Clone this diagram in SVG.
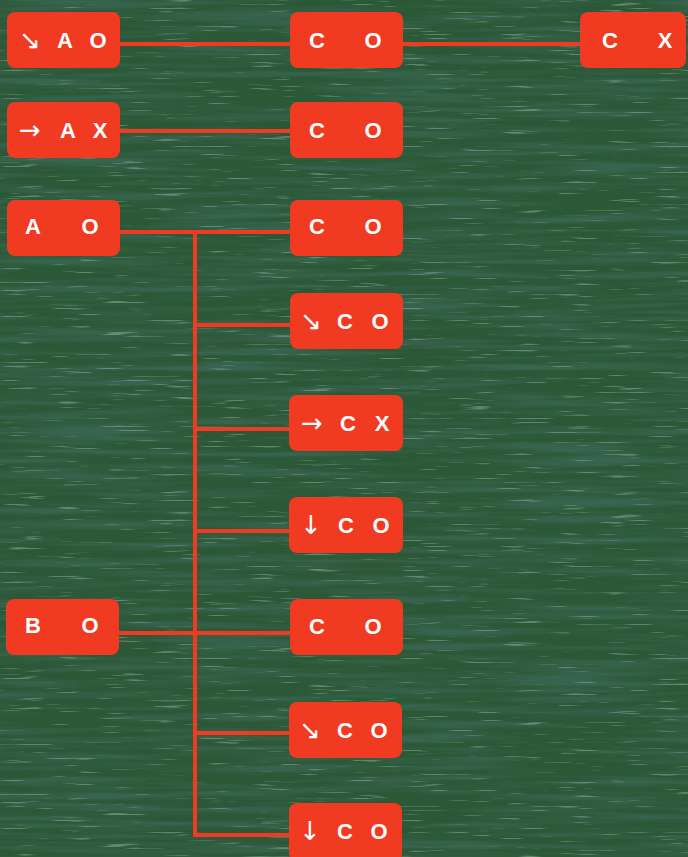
<svg xmlns="http://www.w3.org/2000/svg" width="688" height="857" viewBox="0 0 688 857">
<defs>
<style>
.box{fill:#f03a22}
.t{font-family:"Liberation Sans",Arial,sans-serif;font-weight:bold;font-size:22px;fill:#ffffff;text-anchor:middle}
.a{font-family:"DejaVu Sans",sans-serif;font-size:26px;fill:#ffffff;text-anchor:middle}
.c{stroke:#f03a22;stroke-width:4;fill:none}
</style>
<filter id="streaks" x="0" y="0" width="100%" height="100%">
<feTurbulence type="fractalNoise" baseFrequency="0.006 0.14" numOctaves="3" seed="4" result="n"/>
<feColorMatrix in="n" type="matrix" values="0 0 0 0 0.04  0 0 0 0 0.13  0 0 0 0 0.08  0 0 0 -2.6 1.55"/>
</filter>
<filter id="speck" x="0" y="0" width="100%" height="100%">
<feTurbulence type="fractalNoise" baseFrequency="0.02 0.5" numOctaves="2" seed="9" result="n"/>
<feColorMatrix in="n" type="matrix" values="0 0 0 0 0.7  0 0 0 0 0.82  0 0 0 0 0.78  0 0 0 9 -6"/>
</filter>
</defs>
<rect width="688" height="857" fill="#2b5836"/>
<rect width="688" height="857" filter="url(#streaks)"/>
<rect width="688" height="857" filter="url(#speck)" opacity="0.3"/>
<g id="connectors">
<path class="c" d="M120 44H290M403 44H580"/>
<path class="c" d="M120 131H290"/>
<path class="c" d="M120 232H290M195 232V835H290M195 325H290M195 429H290M195 531H290M195 733H290"/>
<path class="c" d="M119 633H290"/>
</g>
<g id="n_l1"><rect class="box" x="7" y="12" width="113" height="56" rx="8"/><text class="a" x="30" y="49">↘</text><text class="t" x="65" y="48">A</text><text class="t" x="98" y="48">O</text></g>
<g id="n_l2"><rect class="box" x="7" y="102" width="113" height="56" rx="8"/><text class="a" x="30" y="139">→</text><text class="t" x="68" y="138">A</text><text class="t" x="100" y="138">X</text></g>
<g id="n_l3"><rect class="box" x="7" y="200" width="113" height="56" rx="8"/><text class="t" x="33" y="234">A</text><text class="t" x="90" y="234">O</text></g>
<g id="n_l4"><rect class="box" x="6" y="599" width="113" height="56" rx="8"/><text class="t" x="33" y="633">B</text><text class="t" x="90" y="633">O</text></g>
<g id="n_m1"><rect class="box" x="290" y="12" width="113" height="56" rx="8"/><text class="t" x="317" y="48">C</text><text class="t" x="373" y="48">O</text></g>
<g id="n_r1"><rect class="box" x="580" y="12" width="106" height="56" rx="8"/><text class="t" x="610" y="48">C</text><text class="t" x="665" y="48">X</text></g>
<g id="n_m2"><rect class="box" x="290" y="102" width="113" height="56" rx="8"/><text class="t" x="317" y="138">C</text><text class="t" x="373" y="138">O</text></g>
<g id="n_m3"><rect class="box" x="290" y="200" width="113" height="56" rx="8"/><text class="t" x="317" y="234">C</text><text class="t" x="373" y="234">O</text></g>
<g id="n_m4"><rect class="box" x="290" y="293" width="113" height="56" rx="8"/><text class="a" x="311" y="330">↘</text><text class="t" x="345" y="329">C</text><text class="t" x="380" y="329">O</text></g>
<g id="n_m5"><rect class="box" x="289" y="395" width="114" height="56" rx="8"/><text class="a" x="312" y="432">→</text><text class="t" x="348" y="431">C</text><text class="t" x="382" y="431">X</text></g>
<g id="n_m6"><rect class="box" x="289" y="497" width="114" height="56" rx="8"/><text class="a" x="311" y="534">↓</text><text class="t" x="346" y="533">C</text><text class="t" x="381" y="533">O</text></g>
<g id="n_m7"><rect class="box" x="290" y="599" width="113" height="56" rx="8"/><text class="t" x="317" y="634">C</text><text class="t" x="373" y="634">O</text></g>
<g id="n_m8"><rect class="box" x="289" y="702" width="113" height="56" rx="8"/><text class="a" x="310" y="739">↘</text><text class="t" x="345" y="738">C</text><text class="t" x="379" y="738">O</text></g>
<g id="n_m9"><rect class="box" x="289" y="803" width="113" height="58" rx="8"/><text class="a" x="310" y="840">↓</text><text class="t" x="345" y="839">C</text><text class="t" x="379" y="839">O</text></g>
</svg>
